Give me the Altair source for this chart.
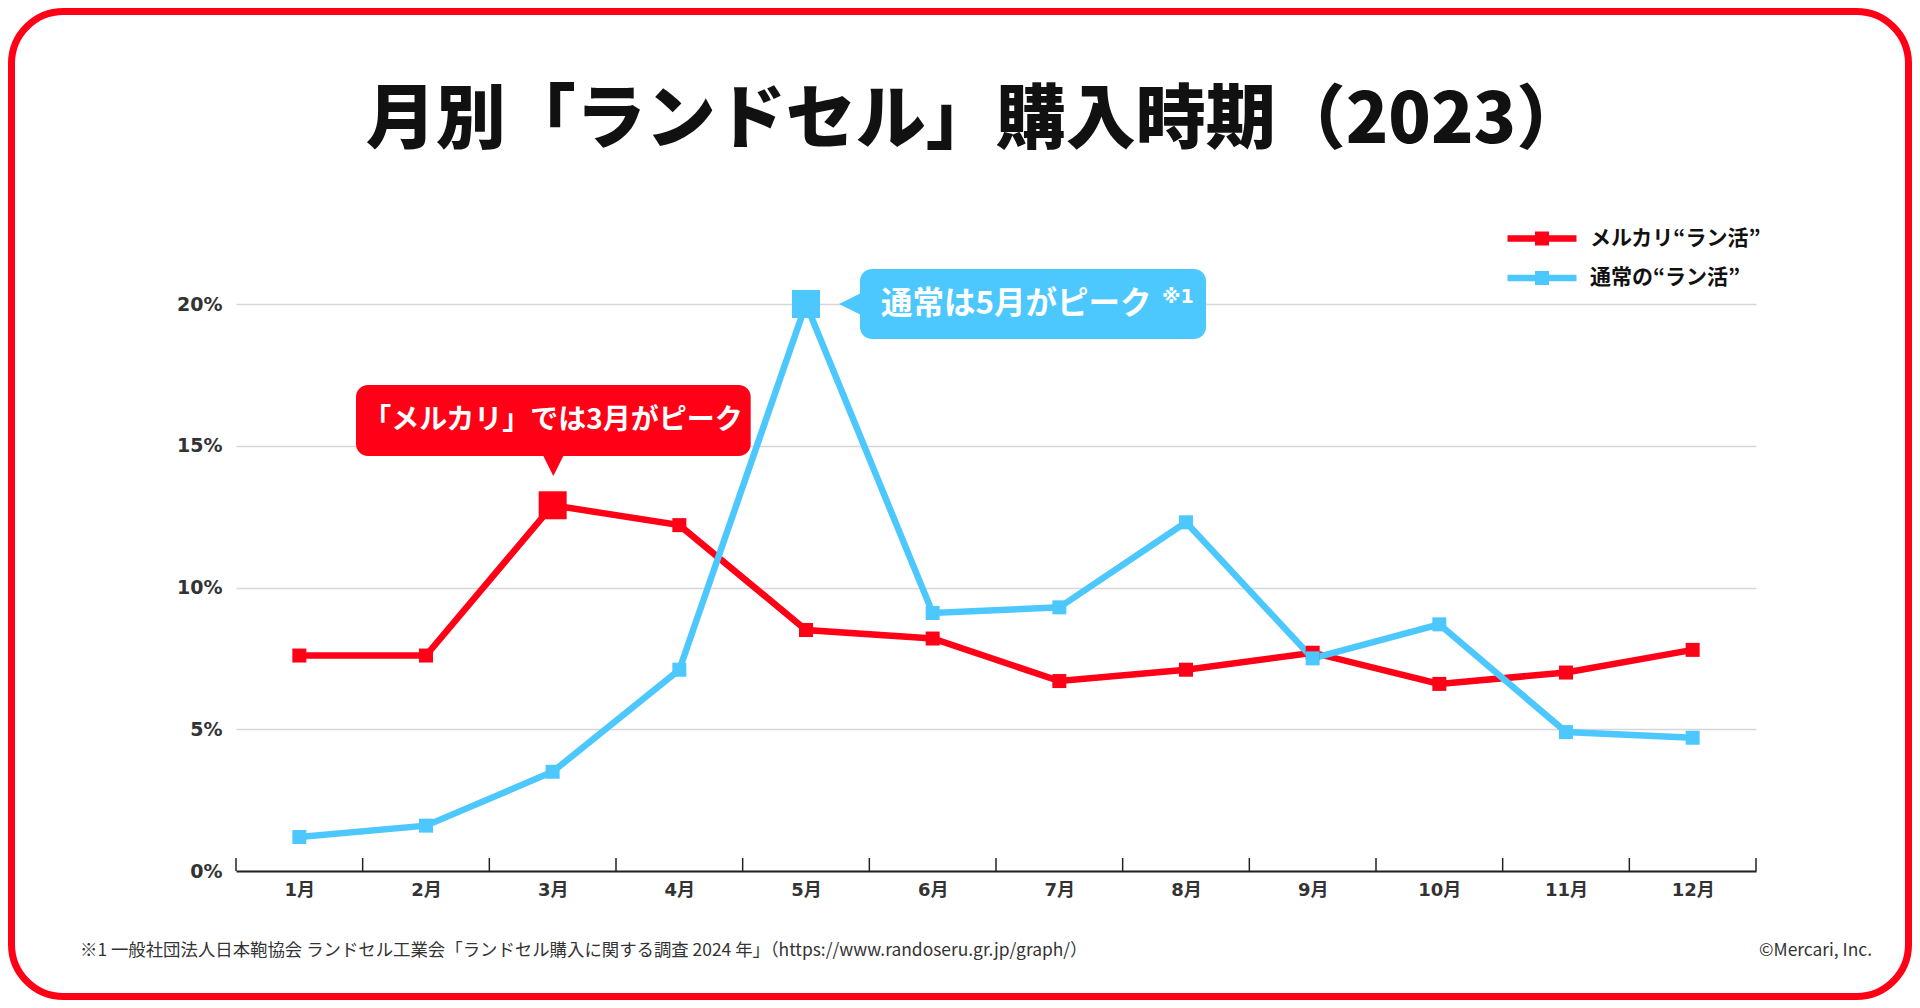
import json
import altair as alt
import pandas as pd

# ---------------- data ----------------
months = [1, 2, 3, 4, 5, 6, 7, 8, 9, 10, 11, 12]
month_labels = ["1月", "2月", "3月", "4月", "5月", "6月", "7月", "8月", "9月", "10月", "11月", "12月"]
series_names = ["メルカリ“ラン活”", "通常の“ラン活”"]
mercari = [7.6, 7.6, 12.9, 12.2, 8.5, 8.2, 6.7, 7.1, 7.7, 6.6, 7.0, 7.8]
normal = [1.2, 1.6, 3.5, 7.1, 20.0, 9.1, 9.3, 12.3, 7.5, 8.7, 4.9, 4.7]
peak_months = [3, 5]  # peak month of each series
y_ticks = [0, 5, 10, 15, 20]
tick_edges = [0.5, 1.5, 2.5, 3.5, 4.5, 5.5, 6.5, 7.5, 8.5, 9.5, 10.5, 11.5, 12.5]

title_text = "月別「ランドセル」購入時期（2023）"
callout_red = "「メルカリ」では3月がピーク"
callout_blue = "通常は5月がピーク"
callout_blue_note = "※1"
footnote = "※1 一般社団法人日本鞄協会 ランドセル工業会「ランドセル購入に関する調査 2024 年」（https://www.randoseru.gr.jp/graph/）"
copyright_text = "©Mercari, Inc."

RED = "#FF0016"
BLUE = "#4DC8FE"
series_colors = [RED, BLUE]
JP = "'Noto Sans CJK JP', 'Noto Sans', sans-serif"
NUM = "'DejaVu Sans', 'Noto Sans CJK JP', sans-serif"

W, H = 1520, 567

rows = []
for si, (name, vals) in enumerate(zip(series_names, [mercari, normal])):
    for m, v in zip(months, vals):
        rows.append({"month": m, "series": name, "value": v, "peak": m == peak_months[si]})
df = pd.DataFrame(rows)

x_enc = alt.X(
    "month:Q",
    scale=alt.Scale(domain=[0.5, 12.5], nice=False, zero=False),
    axis=alt.Axis(
        values=months,
        labelExpr=f"{json.dumps(month_labels, ensure_ascii=False)}[datum.value - 1]",
        ticks=False, grid=False, domain=True, domainColor="#222", domainWidth=2,
        labelFont=NUM, labelFontSize=18, labelFontWeight="bold", labelColor="#333",
        labelPadding=10, title=None,
    ),
)
y_enc = alt.Y(
    "value:Q",
    scale=alt.Scale(domain=[0, 20], nice=False, zero=True),
    axis=alt.Axis(
        values=y_ticks, labelExpr="datum.value + '%'",
        grid=True, gridColor="#d6d6d6", gridWidth=1.5,
        domain=False, ticks=False, labelPadding=14,
        labelFont=NUM, labelFontSize=19, labelFontWeight="bold", labelColor="#333",
        title=None,
    ),
)
color_scale = alt.Scale(domain=series_names, range=series_colors)

legend_path = "M-3.45,-0.32H3.45V0.32H-3.45Z M-0.7,-0.7H0.7V0.7H-0.7Z"

base = alt.Chart(df)

line_layers = []
peak_layers = []
for name, col in zip(series_names, series_colors):
    sel = base.transform_filter(alt.datum.series == name)
    line_layers.append(sel.mark_line(strokeWidth=6.5, color=col).encode(x=x_enc, y=y_enc))
    peak_layers.append(
        sel.transform_filter("datum.peak").mark_square(size=784, opacity=1, color=col).encode(x=x_enc, y=y_enc)
    )

points = base.mark_square(size=196, opacity=1).encode(
    x=x_enc, y=y_enc,
    color=alt.Color(
        "series:N", scale=color_scale,
        legend=alt.Legend(
            orient="none", legendX=1295.5, legendY=-76, title=None,
            symbolType=legend_path, symbolSize=400, symbolStrokeWidth=0,
            labelFont=JP, labelFontSize=21, labelFontWeight="bold", labelColor="#111",
            labelOffset=37.5, rowPadding=17.5, padding=0, labelLimit=400,
        ),
    ),
)

ticks = alt.Chart(pd.DataFrame({"month": tick_edges})).mark_rule(color="#222", strokeWidth=1.5).encode(
    x=x_enc, y=alt.value(H - 13), y2=alt.value(H)
)

one = pd.DataFrame({"k": [0]})

border = alt.Chart(one).mark_rect(
    fillOpacity=0, stroke="#FF0016", strokeWidth=7, cornerRadius=52
).encode(
    x=alt.value(-224.5), x2=alt.value(1672.5), y=alt.value(-292.5), y2=alt.value(692.5)
)

title = alt.Chart(pd.DataFrame({"t": [title_text]})).mark_text(
    font=JP, fontSize=70, fontWeight=900, color="#111", align="center", baseline="middle"
).encode(x=alt.value(740), y=alt.value(-182), text="t:N")

# red callout
red_box = alt.Chart(one).mark_rect(color=RED, cornerRadius=12).encode(
    x=alt.value(120), x2=alt.value(514.7), y=alt.value(81), y2=alt.value(152)
)
red_ptr = alt.Chart(one).mark_point(
    shape="M-1,-1L1,-1L0,1Z", size=400, filled=True, opacity=1, color=RED, strokeWidth=0
).encode(x=alt.value(317.3), y=alt.value(162))
red_txt = alt.Chart(pd.DataFrame({"t": [callout_red]})).mark_text(
    font=JP, fontSize=28, fontWeight="bold", color="white", align="center", baseline="middle"
).encode(x=alt.value(317), y=alt.value(117), text="t:N")

# blue callout
blue_box = alt.Chart(one).mark_rect(color=BLUE, cornerRadius=12).encode(
    x=alt.value(624), x2=alt.value(970), y=alt.value(-35), y2=alt.value(35)
)
blue_ptr = alt.Chart(one).mark_point(
    shape="M1,-1L1,1L-1,0Z", size=484, filled=True, opacity=1, color=BLUE, strokeWidth=0
).encode(x=alt.value(614), y=alt.value(0))
blue_txt = alt.Chart(pd.DataFrame({"t": [callout_blue]})).mark_text(
    font=JP, fontSize=31.5, fontWeight="bold", color="white", align="left", baseline="middle"
).encode(x=alt.value(645), y=alt.value(1), text="t:N")
blue_note = alt.Chart(pd.DataFrame({"t": [callout_blue_note]})).mark_text(
    font=NUM, fontSize=19, fontWeight="bold", color="white", align="left", baseline="middle"
).encode(x=alt.value(926), y=alt.value(-7), text="t:N")

foot = alt.Chart(pd.DataFrame({"t": [footnote]})).mark_text(
    font=JP, fontSize=17.4, color="#333", align="left", baseline="middle"
).encode(x=alt.value(-156), y=alt.value(647), text="t:N")
copy = alt.Chart(pd.DataFrame({"t": [copyright_text]})).mark_text(
    font=JP, fontSize=17.4, color="#333", align="right", baseline="middle"
).encode(x=alt.value(1636), y=alt.value(647), text="t:N")

chart = alt.layer(
    border, ticks, *line_layers, points, *peak_layers,
    red_box, red_ptr, red_txt, blue_box, blue_ptr, blue_txt, blue_note,
    title, foot, copy,
).properties(
    width=W, height=H,
    autosize=alt.AutoSizeParams(type="none"),
    padding={"left": 228, "top": 296, "right": 156, "bottom": 129},
    background="white",
).configure_view(stroke=None)

chart.save("out.html", embed_options={"renderer": "svg", "actions": False})
